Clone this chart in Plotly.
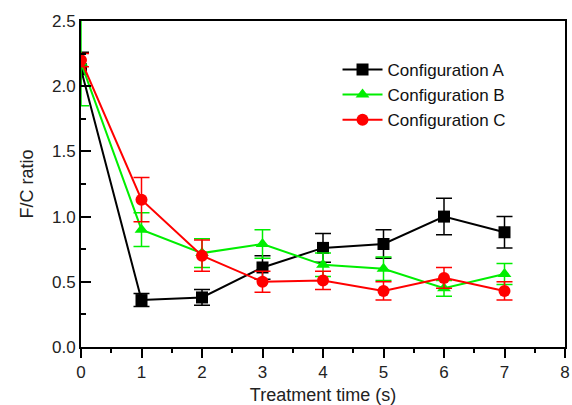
import plotly.graph_objects as go

time_s = [0, 1, 2, 3, 4, 5, 6, 7]

conf_a = [2.13, 0.36, 0.38, 0.61, 0.76, 0.79, 1.00, 0.88]
err_a = [0.13, 0.05, 0.06, 0.09, 0.11, 0.11, 0.14, 0.12]

conf_b = [2.18, 0.90, 0.72, 0.79, 0.63, 0.60, 0.45, 0.56]
err_b = [0.33, 0.13, 0.11, 0.11, 0.09, 0.09, 0.06, 0.08]

conf_c = [2.20, 1.13, 0.70, 0.50, 0.51, 0.43, 0.53, 0.43]
err_c = [0.05, 0.17, 0.12, 0.08, 0.07, 0.07, 0.08, 0.07]

series = [
    ("Configuration A", conf_a, err_a, "#000000", "square"),
    ("Configuration B", conf_b, err_b, "#00ee00", "triangle-up"),
    ("Configuration C", conf_c, err_c, "#ff0000", "circle"),
]

fig = go.Figure()
for name, y, e, col, sym in series:
    fig.add_trace(go.Scatter(
        x=time_s, y=y, name=name, mode="lines+markers",
        line=dict(color=col, width=2),
        marker=dict(color=col, symbol=sym, size=12),
        error_y=dict(type="data", array=e, visible=True, color=col,
                     thickness=1.5, width=8),
    ))

font = dict(family="Liberation Sans, Arial, sans-serif", size=17, color="#222")

fig.update_layout(
    width=572, height=405,
    margin=dict(l=81, r=2, t=21, b=56),
    plot_bgcolor="white", paper_bgcolor="white",
    font=font,
    showlegend=True,
    legend=dict(x=0.53, y=0.905, xanchor="left", yanchor="top",
                bgcolor="rgba(0,0,0,0)", font=dict(size=17, color="#111"),
                tracegroupgap=0, itemwidth=40),
    xaxis=dict(
        range=[0, 8], dtick=1, tick0=0, showgrid=False, zeroline=False,
        showline=True, linecolor="black", linewidth=2, mirror=True,
        ticks="outside", ticklen=9, tickwidth=2, tickcolor="black",
        ticklabeloverflow="allow",
        minor=dict(ticks="outside", ticklen=4, tickwidth=2, dtick=0.5, tickcolor="black"),
        title=dict(text="Treatment time (s)", font=dict(size=18), standoff=8),
    ),
    yaxis=dict(
        range=[0, 2.5], dtick=0.5, tick0=0, tickformat=".1f", showgrid=False, zeroline=False,
        showline=True, linecolor="black", linewidth=2, mirror=True,
        ticks="inside", ticklen=10, tickwidth=2, tickcolor="black",
        minor=dict(ticks="inside", ticklen=5, tickwidth=2, dtick=0.25, tickcolor="black"),
        title=dict(text="F/C ratio", font=dict(size=18), standoff=14),
    ),
)

fig.write_html("out.html")
